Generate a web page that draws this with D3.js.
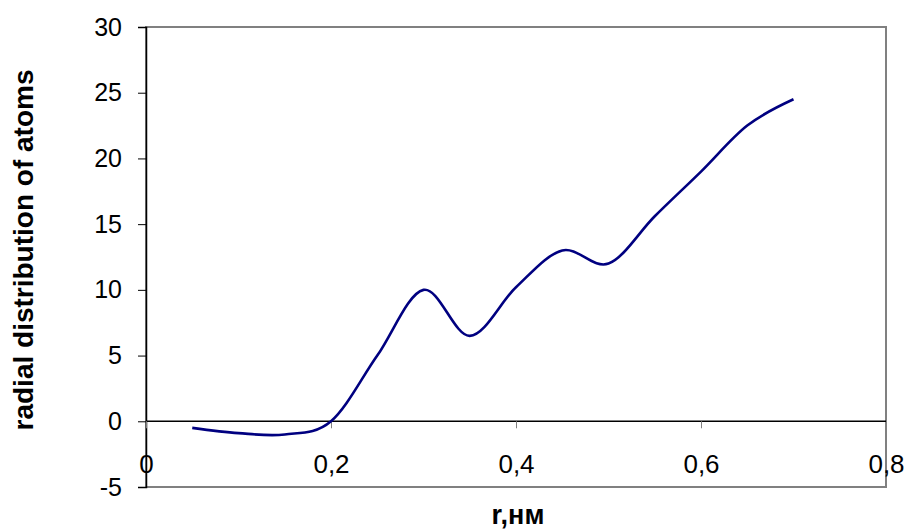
<!DOCTYPE html>
<html><head><meta charset="utf-8">
<script src="https://cdn.jsdelivr.net/npm/d3@7"></script>
<style>
body{margin:0;background:#fff;}
svg{display:block;}
text{font-family:"Liberation Sans",Arial,sans-serif;}
</style></head>
<body>
<svg id="c" width="906" height="531"></svg>
<script>
const rValues = [0.05,0.1,0.15,0.2,0.25,0.3,0.35,0.4,0.45,0.5,0.55,0.6,0.65,0.7];
const gValues = [-0.5,-0.9,-1.0,0,5.0,10.0,6.5,10.2,13.0,12.0,15.6,19.0,22.5,24.5];
const xTicks = [0,0.2,0.4,0.6,0.8];
const yTicks = [-5,0,5,10,15,20,25,30];
const xTitle = "r,нм";
const yTitle = "radial distribution of atoms";

const svg = d3.select("#c");
const m = {l:146, t:27, r:20, b:44};
const W = 906 - m.l - m.r, H = 531 - m.t - m.b;
const x = d3.scaleLinear().domain([0,0.8]).range([m.l, m.l+W]);
const y = d3.scaleLinear().domain([-5,30]).range([m.t+H, m.t]);
const fmt = d => String(d).replace(".", ",");

// plot border (gray)
svg.append("rect").attr("x",m.l).attr("y",m.t).attr("width",W).attr("height",H)
  .attr("fill","none").attr("stroke","#808080").attr("stroke-width",2);

// y axis
const ya = svg.append("g").attr("transform",`translate(${m.l},0)`)
  .call(d3.axisLeft(y).tickValues(yTicks).tickSize(8).tickPadding(16).tickFormat(d=>String(d)));
ya.select(".domain").attr("stroke","#000").attr("stroke-width",1.5);
ya.selectAll(".tick line").attr("stroke","#000").attr("stroke-width",1);
ya.selectAll(".tick text").attr("font-size",25).attr("fill","#000")
  .attr("font-family","'Liberation Sans',Arial,sans-serif");

// x axis at y=0
const xa = svg.append("g").attr("transform",`translate(0,${y(0)})`)
  .call(d3.axisBottom(x).tickValues(xTicks).tickSize(7).tickPadding(26).tickFormat(fmt));
xa.select(".domain").attr("stroke","#000").attr("stroke-width",1.5).attr("d",`M${m.l},0H${m.l+W}`);
xa.selectAll(".tick line").attr("stroke","#808080").attr("stroke-width",1);
xa.selectAll(".tick text").attr("font-size",26).attr("fill","#000")
  .attr("font-family","'Liberation Sans',Arial,sans-serif");

// curve
const line = d3.line().x((d,i)=>x(rValues[i])).y(d=>y(d)).curve(d3.curveCardinal.tension(0));
svg.append("path").datum(gValues).attr("d",line).attr("fill","none")
  .attr("stroke","#000080").attr("stroke-width",2.6).attr("stroke-linejoin","round");

// titles
svg.append("text").attr("x",518).attr("y",524).attr("text-anchor","middle")
  .attr("font-size",27).attr("font-weight","bold").text(xTitle);
svg.append("text").attr("transform",`translate(33,250) rotate(-90)`).attr("text-anchor","middle")
  .attr("font-size",28).attr("font-weight","bold").text(yTitle);
</script>
</body></html>
